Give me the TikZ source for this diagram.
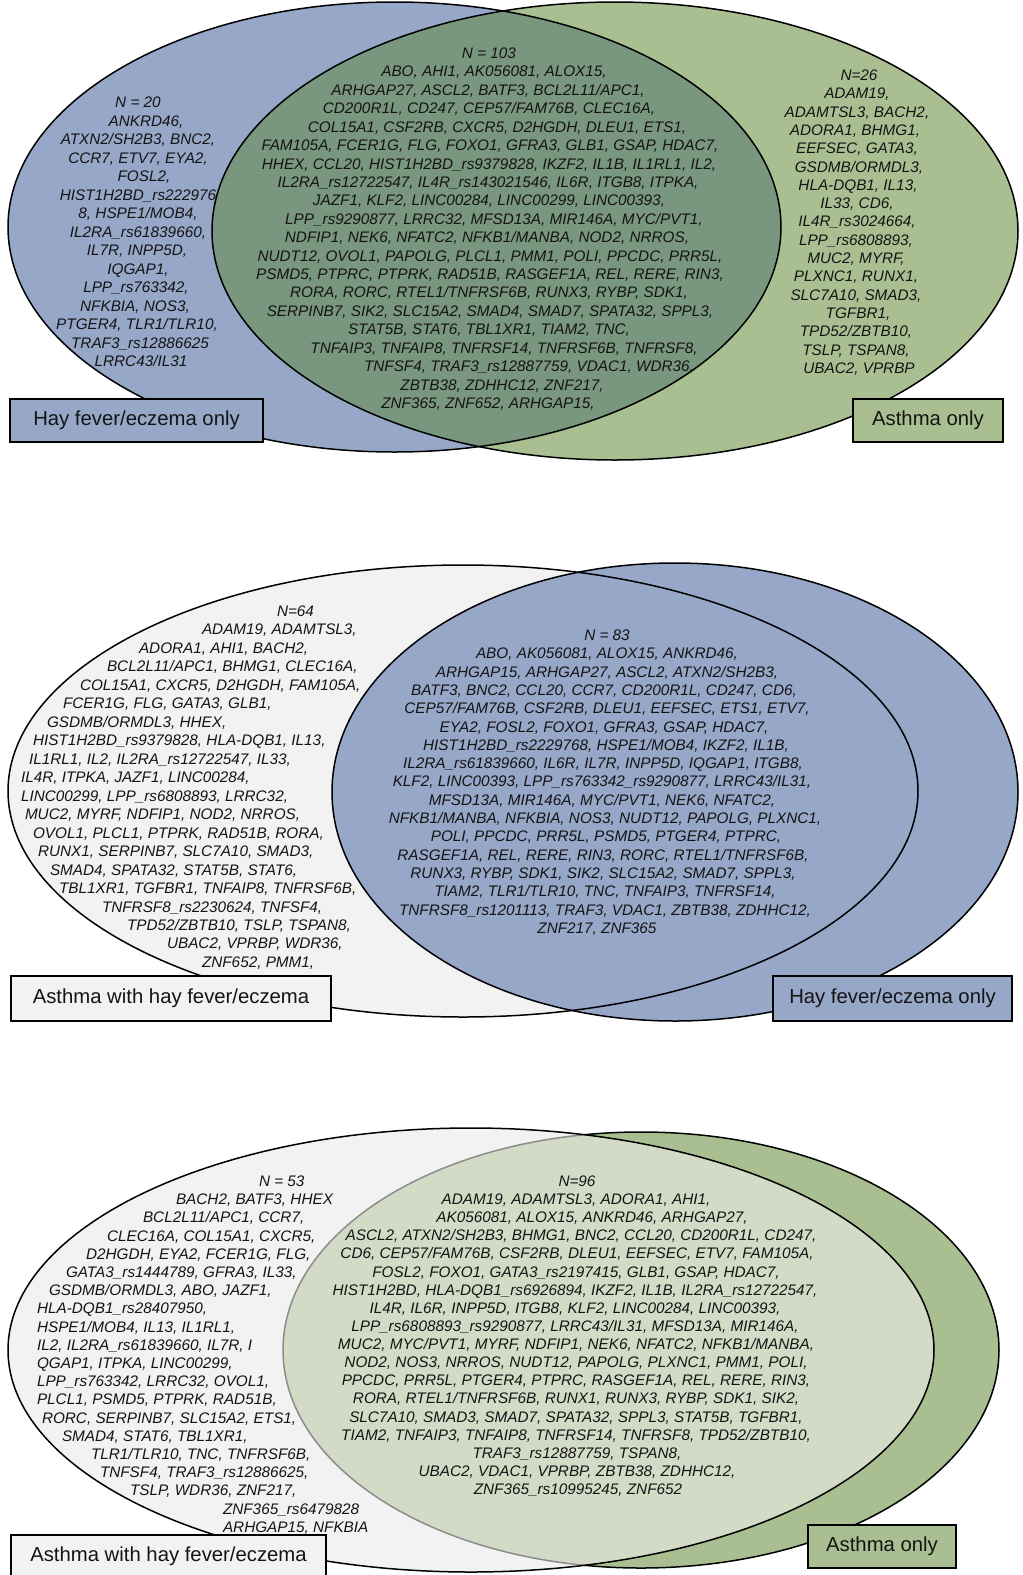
\documentclass[tikz,border=0pt]{standalone}
\usepackage{fontspec}
\setmainfont{Liberation Sans}
\definecolor{cblue}{RGB}{150,167,200}
\definecolor{cgreen}{RGB}{169,191,145}
\definecolor{cdkgreen}{RGB}{121,150,126}
\definecolor{cgrey}{RGB}{242,242,242}
\definecolor{cltgreen}{RGB}{211,219,199}
\definecolor{ctext}{RGB}{20,20,20}
\newcounter{gl}
\newcommand\gstart[2]{\def\gy{#1}\def\gdy{#2}}
\newcommand\gc[2]{\stepcounter{gl}\edef\gname{g\arabic{gl}}%
  \node[gene,anchor=base] (\gname) at (#1,\gy+5.5) {#2};%
  \pgfmathsetmacro\gy{\gy+\gdy}}
\newcommand\gw[2]{\stepcounter{gl}\edef\gname{g\arabic{gl}}%
  \node[gene,anchor=base west] (\gname) at (#1,\gy+5.5) {#2};%
  \pgfmathsetmacro\gy{\gy+\gdy}}
\begin{document}
\begin{tikzpicture}[x=1pt,y=-1pt,
  gene/.style={inner sep=0pt,outer sep=0pt,text=ctext,font=\itshape\fontsize{15.3}{18}\selectfont},
  lbl/.style={draw=black,line width=1.5pt,inner sep=0pt,text=ctext,font=\fontsize{20.3}{24}\selectfont},
  outl/.style={draw=black,line width=1.5pt}]
\useasboundingbox (0,0) rectangle (1023,1575);
\fill[white] (0,0) rectangle (1023,1575);

% ---------------- Panel 1 ----------------
\fill[cblue] (394.5,227) ellipse [x radius=386.5pt, y radius=225pt];
\fill[cgreen] (615,231) ellipse [x radius=403pt, y radius=229pt];
\begin{scope}
\clip (394.5,227) ellipse [x radius=386.5pt, y radius=225pt];
\fill[cdkgreen] (615,231) ellipse [x radius=403pt, y radius=229pt];
\end{scope}
\draw[outl] (394.5,227) ellipse [x radius=386.5pt, y radius=225pt];
\draw[outl] (615,231) ellipse [x radius=403pt, y radius=229pt];

\node[lbl,fill=cblue,minimum width=253pt,minimum height=43pt] (b1) at (136.5,420.5) {Hay fever/eczema only};
\node[lbl,fill=cgreen,minimum width=150pt,minimum height=43pt] (b2) at (928,420.5) {Asthma only};

\gstart{102}{18.5}
\gc{138}{N = 20}
\gc{146}{ANKRD46,}
\gc{138}{ATXN2/SH2B3, BNC2,}
\gc{138}{CCR7, ETV7, EYA2,}
\gc{144}{FOSL2,}
\gc{138}{HIST1H2BD\_rs222976}
\gc{138}{8, HSPE1/MOB4,}
\gc{138}{IL2RA\_rs61839660,}
\gc{137}{IL7R, INPP5D,}
\gc{138}{IQGAP1,}
\gc{136}{LPP\_rs763342,}
\gc{135}{NFKBIA, NOS3,}
\gc{137}{PTGER4, TLR1/TLR10,}
\gc{140}{TRAF3\_rs12886625}
\gc{141}{LRRC43/IL31}

\gstart{53}{18.42}
\gc{489}{N = 103}
\gc{494}{ABO, AHI1, AK056081, ALOX15,}
\gc{488}{ARHGAP27, ASCL2, BATF3, BCL2L11/APC1,}
\gc{489}{CD200R1L, CD247, CEP57/FAM76B, CLEC16A,}
\gc{497}{COL15A1, CSF2RB, CXCR5, D2HGDH, DLEU1, ETS1,}
\gc{490}{FAM105A, FCER1G, FLG, FOXO1, GFRA3, GLB1, GSAP, HDAC7,}
\gc{489}{HHEX, CCL20, HIST1H2BD\_rs9379828, IKZF2, IL1B, IL1RL1, IL2,}
\gc{488}{IL2RA\_rs12722547, IL4R\_rs143021546, IL6R, ITGB8, ITPKA,}
\gc{489}{JAZF1, KLF2, LINC00284, LINC00299, LINC00393,}
\gc{494}{LPP\_rs9290877, LRRC32, MFSD13A, MIR146A, MYC/PVT1,}
\gc{487}{NDFIP1, NEK6, NFATC2, NFKB1/MANBA, NOD2, NRROS,}
\gc{490}{NUDT12, OVOL1, PAPOLG, PLCL1, PMM1, POLI, PPCDC, PRR5L,}
\gc{490}{PSMD5, PTPRC, PTPRK, RAD51B, RASGEF1A, REL, RERE, RIN3,}
\gc{489}{RORA, RORC, RTEL1/TNFRSF6B, RUNX3, RYBP, SDK1,}
\gc{490}{SERPINB7, SIK2, SLC15A2, SMAD4, SMAD7, SPATA32, SPPL3,}
\gc{489}{STAT5B, STAT6, TBL1XR1, TIAM2, TNC,}
\gc{504}{TNFAIP3, TNFAIP8, TNFRSF14, TNFRSF6B, TNFRSF8,}
\gc{529}{TNFSF4, TRAF3\_rs12887759, VDAC1, WDR36,}
\gc{502}{ZBTB38, ZDHHC12, ZNF217,}
\gc{488}{ZNF365, ZNF652, ARHGAP15,}

\gstart{75}{18.31}
\gc{859}{N=26}
\gc{857}{ADAM19,}
\gc{857}{ADAMTSL3, BACH2,}
\gc{855}{ADORA1, BHMG1,}
\gc{857}{EEFSEC, GATA3,}
\gc{859}{GSDMB/ORMDL3,}
\gc{858}{HLA-DQB1, IL13,}
\gc{857}{IL33, CD6,}
\gc{857}{IL4R\_rs3024664,}
\gc{856}{LPP\_rs6808893,}
\gc{856}{MUC2, MYRF,}
\gc{856}{PLXNC1, RUNX1,}
\gc{856}{SLC7A10, SMAD3,}
\gc{858}{TGFBR1,}
\gc{856}{TPD52/ZBTB10,}
\gc{856}{TSLP, TSPAN8,}
\gc{859}{UBAC2, VPRBP}

% ---------------- Panel 2 ----------------
\fill[cgrey] (463,791) ellipse [x radius=455pt, y radius=226pt];
\fill[cblue] (675,792) ellipse [x radius=343pt, y radius=229pt];
\draw[outl] (463,791) ellipse [x radius=455pt, y radius=226pt];
\draw[outl] (675,792) ellipse [x radius=343pt, y radius=229pt];

\node[lbl,fill=cgrey,minimum width=320pt,minimum height=45pt] (b3) at (171,998.5) {Asthma with hay fever/eczema};
\node[lbl,fill=cblue,minimum width=239pt,minimum height=45pt] (b4) at (892.5,998.5) {Hay fever/eczema only};

\gstart{611}{18.47}
\gw{277}{N=64}
\gw{202}{ADAM19, ADAMTSL3,}
\gw{139}{ADORA1, AHI1, BACH2,}
\gw{107}{BCL2L11/APC1, BHMG1, CLEC16A,}
\gw{80}{COL15A1, CXCR5, D2HGDH, FAM105A,}
\gw{63}{FCER1G, FLG, GATA3, GLB1,}
\gw{47}{GSDMB/ORMDL3, HHEX,}
\gw{33}{HIST1H2BD\_rs9379828, HLA-DQB1, IL13,}
\gw{29}{IL1RL1, IL2, IL2RA\_rs12722547, IL33,}
\gw{21}{IL4R, ITPKA, JAZF1, LINC00284,}
\gw{21}{LINC00299, LPP\_rs6808893, LRRC32,}
\gw{25}{MUC2, MYRF, NDFIP1, NOD2, NRROS,}
\gw{33}{OVOL1, PLCL1, PTPRK, RAD51B, RORA,}
\gw{38}{RUNX1, SERPINB7, SLC7A10, SMAD3,}
\gw{50}{SMAD4, SPATA32, STAT5B, STAT6,}
\gw{59}{TBL1XR1, TGFBR1, TNFAIP8, TNFRSF6B,}
\gw{102}{TNFRSF8\_rs2230624, TNFSF4,}
\gw{127}{TPD52/ZBTB10, TSLP, TSPAN8,}
\gw{167}{UBAC2, VPRBP, WDR36,}
\gw{202}{ZNF652, PMM1,}

\gstart{635}{18.31}
\gc{607}{N = 83}
\gc{607}{ABO, AK056081, ALOX15, ANKRD46,}
\gc{607}{ARHGAP15, ARHGAP27, ASCL2, ATXN2/SH2B3,}
\gc{604}{BATF3, BNC2, CCL20, CCR7, CD200R1L, CD247, CD6,}
\gc{607}{CEP57/FAM76B, CSF2RB, DLEU1, EEFSEC, ETS1, ETV7,}
\gc{604}{EYA2, FOSL2, FOXO1, GFRA3, GSAP, HDAC7,}
\gc{606}{HIST1H2BD\_rs2229768, HSPE1/MOB4, IKZF2, IL1B,}
\gc{603}{IL2RA\_rs61839660, IL6R, IL7R, INPP5D, IQGAP1, ITGB8,}
\gc{602}{KLF2, LINC00393, LPP\_rs763342\_rs9290877, LRRC43/IL31,}
\gc{602}{MFSD13A, MIR146A, MYC/PVT1, NEK6, NFATC2,}
\gc{605}{NFKB1/MANBA, NFKBIA, NOS3, NUDT12, PAPOLG, PLXNC1,}
\gc{606}{POLI, PPCDC, PRR5L, PSMD5, PTGER4, PTPRC,}
\gc{603}{RASGEF1A, REL, RERE, RIN3, RORC, RTEL1/TNFRSF6B,}
\gc{603}{RUNX3, RYBP, SDK1, SIK2, SLC15A2, SMAD7, SPPL3,}
\gc{605}{TIAM2, TLR1/TLR10, TNC, TNFAIP3, TNFRSF14,}
\gc{605}{TNFRSF8\_rs1201113, TRAF3, VDAC1, ZBTB38, ZDHHC12,}
\gc{597}{ZNF217, ZNF365}

% ---------------- Panel 3 ----------------
\fill[cgreen] (641,1350) ellipse [x radius=358pt, y radius=218pt];
\draw[outl] (641,1350) ellipse [x radius=358pt, y radius=218pt];
\fill[cgrey] (471,1350) ellipse [x radius=463pt, y radius=222pt];
\begin{scope}
\clip (471,1350) ellipse [x radius=463pt, y radius=222pt];
\fill[cltgreen] (641,1350) ellipse [x radius=358pt, y radius=218pt];
\draw[draw=black!45,line width=1.5pt] (641,1350) ellipse [x radius=358pt, y radius=218pt];
\end{scope}
\draw[outl] (471,1350) ellipse [x radius=463pt, y radius=222pt];

\node[lbl,fill=cgrey,minimum width=315pt,minimum height=42pt] (b5) at (168.5,1556) {Asthma with hay fever/eczema};
\node[lbl,fill=cgreen,minimum width=148pt,minimum height=43pt] (b6) at (882,1546.5) {Asthma only};

\gstart{1181}{18.2}
\gw{259}{N = 53}
\gw{176}{BACH2, BATF3, HHEX}
\gw{143}{BCL2L11/APC1, CCR7,}
\gw{107}{CLEC16A, COL15A1, CXCR5,}
\gw{86}{D2HGDH, EYA2, FCER1G, FLG,}
\gw{66}{GATA3\_rs1444789, GFRA3, IL33,}
\gw{49}{GSDMB/ORMDL3, ABO, JAZF1,}
\gw{37}{HLA-DQB1\_rs28407950,}
\gw{37}{HSPE1/MOB4, IL13, IL1RL1,}
\gw{37}{IL2, IL2RA\_rs61839660, IL7R, I}
\gw{37}{QGAP1, ITPKA, LINC00299,}
\gw{37}{LPP\_rs763342, LRRC32, OVOL1,}
\gw{37}{PLCL1, PSMD5, PTPRK, RAD51B,}
\gw{42}{RORC, SERPINB7, SLC15A2, ETS1,}
\gw{62}{SMAD4, STAT6, TBL1XR1,}
\gw{91}{TLR1/TLR10, TNC, TNFRSF6B,}
\gw{100}{TNFSF4, TRAF3\_rs12886625,}
\gw{130}{TSLP, WDR36, ZNF217,}
\gw{223}{ZNF365\_rs6479828}
\gw{223}{ARHGAP15, NFKBIA}

\gstart{1181}{18.12}
\gc{577}{N=96}
\gc{576}{ADAM19, ADAMTSL3, ADORA1, AHI1,}
\gc{592}{AK056081, ALOX15, ANKRD46, ARHGAP27,}
\gc{581}{ASCL2, ATXN2/SH2B3, BHMG1, BNC2, CCL20, CD200R1L, CD247,}
\gc{577}{CD6, CEP57/FAM76B, CSF2RB, DLEU1, EEFSEC, ETV7, FAM105A,}
\gc{576}{FOSL2, FOXO1, GATA3\_rs2197415, GLB1, GSAP, HDAC7,}
\gc{575}{HIST1H2BD, HLA-DQB1\_rs6926894, IKZF2, IL1B, IL2RA\_rs12722547,}
\gc{575}{IL4R, IL6R, INPP5D, ITGB8, KLF2, LINC00284, LINC00393,}
\gc{575}{LPP\_rs6808893\_rs9290877, LRRC43/IL31, MFSD13A, MIR146A,}
\gc{576}{MUC2, MYC/PVT1, MYRF, NDFIP1, NEK6, NFATC2, NFKB1/MANBA,}
\gc{576}{NOD2, NOS3, NRROS, NUDT12, PAPOLG, PLXNC1, PMM1, POLI,}
\gc{576}{PPCDC, PRR5L, PTGER4, PTPRC, RASGEF1A, REL, RERE, RIN3,}
\gc{576}{RORA, RTEL1/TNFRSF6B, RUNX1, RUNX3, RYBP, SDK1, SIK2,}
\gc{576}{SLC7A10, SMAD3, SMAD7, SPATA32, SPPL3, STAT5B, TGFBR1,}
\gc{576}{TIAM2, TNFAIP3, TNFAIP8, TNFRSF14, TNFRSF8, TPD52/ZBTB10,}
\gc{577}{TRAF3\_rs12887759, TSPAN8,}
\gc{577}{UBAC2, VDAC1, VPRBP, ZBTB38, ZDHHC12,}
\gc{578}{ZNF365\_rs10995245, ZNF652}
\end{tikzpicture}
\end{document}
